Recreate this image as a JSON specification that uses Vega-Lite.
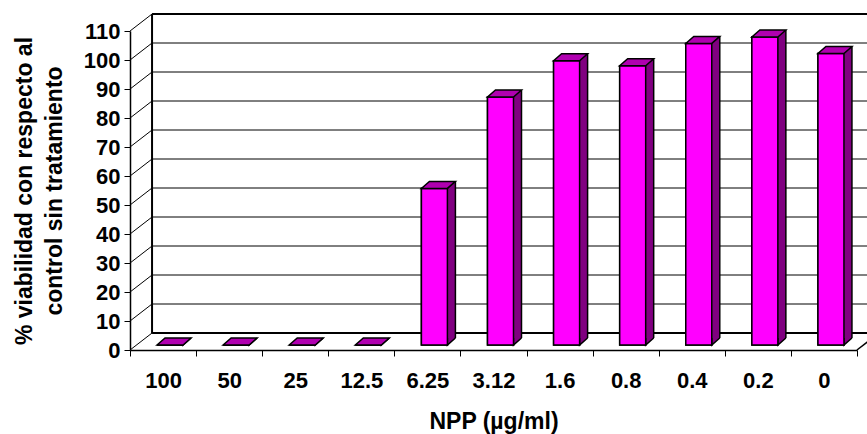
{
  "$schema": "https://vega.github.io/schema/vega-lite/v6.json",
  "width": 727,
  "height": 319,
  "autosize": "none",
  "padding": {"left": 130, "top": 31, "right": 10, "bottom": 84},
  "background": "white",
  "config": {
    "view": {"stroke": null},
    "font": "Liberation Sans",
    "axis": {
      "grid": false, "labelOverlap": false,
      "domainColor": "black", "domainWidth": 1.5, "tickColor": "black", "tickWidth": 1, "tickSize": 6,
      "labelFont": "Liberation Sans", "labelFontSize": 22, "labelFontWeight": "bold", "labelColor": "black",
      "titleFont": "Liberation Sans", "titleFontSize": 23, "titleFontWeight": "bold", "titleColor": "black"
    },
    "axisX": {
      "labelAngle": 0, "tickBand": "extent", "labelPadding": 31, "labelBaseline": "alphabetic",
      "titleY": 78, "titleBaseline": "alphabetic"
    },
    "axisY": {
      "tickCount": 12, "labelPadding": 4, "titleFontSize": 23,
      "titleAngle": 270, "titleX": -99, "titleY": 159.5, "titleAlign": "center", "titleBaseline": "alphabetic", "titleLineHeight": 30
    }
  },
  "datasets": {
    "bars": [
      {"NPP": "100", "v": 0},
      {"NPP": "50", "v": 0},
      {"NPP": "25", "v": 0},
      {"NPP": "12.5", "v": 0},
      {"NPP": "6.25", "v": 54},
      {"NPP": "3.12", "v": 85.5},
      {"NPP": "1.6", "v": 98},
      {"NPP": "0.8", "v": 96.3},
      {"NPP": "0.4", "v": 104},
      {"NPP": "0.2", "v": 106.2},
      {"NPP": "0", "v": 100.5}
    ],
    "grid": [
      {"v": 0}, {"v": 10}, {"v": 20}, {"v": 30}, {"v": 40}, {"v": 50},
      {"v": 60}, {"v": 70}, {"v": 80}, {"v": 90}, {"v": 100}, {"v": 110}
    ]
  },
  "layer": [
    {
      "data": {"name": "bars"},
      "mark": {"type": "bar", "width": 26, "xOffset": 7, "yOffset": -5, "y2Offset": -5, "color": "#FF00FF", "stroke": "black", "strokeWidth": 1.5},
      "encoding": {
        "x": {
          "field": "NPP", "type": "nominal",
          "scale": {"domain": ["100", "50", "25", "12.5", "6.25", "3.12", "1.6", "0.8", "0.4", "0.2", "0"], "paddingInner": 0, "paddingOuter": 0},
          "axis": {"title": "NPP (µg/ml)"}
        },
        "y": {
          "field": "v", "type": "quantitative",
          "scale": {"domain": [0, 110], "nice": false},
          "axis": {"title": ["% viabilidad con respecto al", "control sin tratamiento"]}
        },
        "y2": {"datum": 0}
      }
    },
    {
      "data": {"name": "grid"},
      "transform": [{"filter": "datum.v > 0 && datum.v < 110"}],
      "mark": {"type": "rule", "color": "black", "strokeWidth": 1, "xOffset": -11, "x2Offset": 60, "yOffset": -17},
      "encoding": {
        "x": {"datum": "100", "type": "nominal"},
        "x2": {"datum": "0"},
        "y": {"field": "v", "type": "quantitative"}
      }
    },
    {
      "data": {"name": "grid"},
      "transform": [{"filter": "datum.v == 0 || datum.v == 110"}],
      "mark": {"type": "rule", "color": "black", "strokeWidth": 2, "xOffset": -11, "x2Offset": 60, "yOffset": -17},
      "encoding": {
        "x": {"datum": "100", "type": "nominal"},
        "x2": {"datum": "0"},
        "y": {"field": "v", "type": "quantitative"}
      }
    },
    {
      "data": {"name": "grid"},
      "mark": {"type": "rule", "color": "black", "strokeWidth": 1, "xOffset": -33, "x2Offset": -11, "y2Offset": -17},
      "encoding": {
        "x": {"datum": "100", "type": "nominal"},
        "x2": {"datum": "100"},
        "y": {"field": "v", "type": "quantitative"},
        "y2": {"field": "v"}
      }
    },
    {
      "data": {"name": "grid"},
      "transform": [{"filter": "datum.v == 110"}],
      "mark": {"type": "rule", "color": "black", "strokeWidth": 2, "xOffset": -11, "yOffset": -17, "y2Offset": -17},
      "encoding": {
        "x": {"datum": "100", "type": "nominal"},
        "y": {"field": "v", "type": "quantitative"},
        "y2": {"datum": 0}
      }
    },
    {
      "data": {"name": "grid"},
      "transform": [{"filter": "datum.v == 0"}],
      "mark": {"type": "rule", "color": "black", "strokeWidth": 1.5, "xOffset": 33, "x2Offset": 55, "y2Offset": -17},
      "encoding": {
        "x": {"datum": "0", "type": "nominal"},
        "x2": {"datum": "0"},
        "y": {"field": "v", "type": "quantitative"},
        "y2": {"field": "v"}
      }
    },
    {
      "data": {"name": "bars"},
      "mark": {"type": "bar", "width": 8, "xOffset": 24, "yOffset": -12, "y2Offset": -12, "color": "#800080", "strokeWidth": 0},
      "encoding": {
        "x": {"field": "NPP", "type": "nominal"},
        "y": {"field": "v", "type": "quantitative"},
        "y2": {"datum": 0}
      }
    },
    {
      "data": {"name": "bars"},
      "mark": {"type": "point", "shape": "M1,-0.333L0.619,0L0.619,-0.333", "size": 1764, "filled": true, "fill": "#800080", "stroke": "black", "strokeWidth": 1.5, "opacity": 1, "xOffset": 7, "yOffset": -5},
      "encoding": {
        "x": {"field": "NPP", "type": "nominal"},
        "y": {"datum": 0, "type": "quantitative"}
      }
    },
    {
      "data": {"name": "bars"},
      "mark": {"type": "rule", "color": "black", "strokeWidth": 1.5, "xOffset": 28, "yOffset": -12, "y2Offset": -12},
      "encoding": {
        "x": {"field": "NPP", "type": "nominal"},
        "y": {"field": "v", "type": "quantitative"},
        "y2": {"datum": 0}
      }
    },
    {
      "data": {"name": "bars"},
      "mark": {"type": "bar", "width": 26, "xOffset": 7, "yOffset": -5, "y2Offset": -5, "color": "#FF00FF", "stroke": "black", "strokeWidth": 1.5},
      "encoding": {
        "x": {"field": "NPP", "type": "nominal"},
        "y": {"field": "v", "type": "quantitative"},
        "y2": {"datum": 0}
      }
    },
    {
      "data": {"name": "bars"},
      "mark": {"type": "point", "shape": "M-0.619,0L0.619,0L1,-0.333L-0.238,-0.333Z", "size": 1764, "filled": true, "fill": "#B000B0", "stroke": "black", "strokeWidth": 1.5, "opacity": 1, "xOffset": 7, "yOffset": -5},
      "encoding": {
        "x": {"field": "NPP", "type": "nominal"},
        "y": {"field": "v", "type": "quantitative"}
      }
    }
  ]
}
